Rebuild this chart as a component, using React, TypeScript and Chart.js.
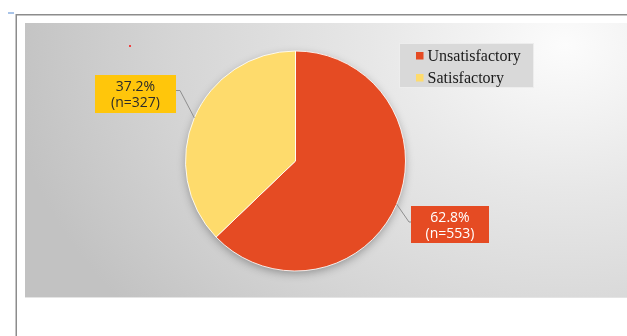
import React, { useEffect, useRef } from "react";
import { Chart, registerables } from "chart.js";

Chart.register(...registerables);

const categories = ["Unsatisfactory", "Satisfactory"];
const counts = [553, 327];
const sliceColors = ["#E54B23", "#FEDB6C"];
const labelBoxColors = ["#E54B23", "#FFC60B"];
const labelTextColors = ["#FFFFFF", "#2B2B2B"];

const W = 627;
const H = 336;

const decorPlugin = {
  id: "decor",
  beforeDraw(chart: any) {
    const ctx = chart.ctx;
    ctx.save();
    ctx.fillStyle = "#FFFFFF";
    ctx.fillRect(0, 0, W, H);
    // gray plot area with elliptical gradient
    ctx.save();
    ctx.beginPath();
    ctx.rect(25, 23, W - 25, 275);
    ctx.clip();
    const cx = 565, cy = 45, rx = 560, ry = 420;
    ctx.translate(cx, cy);
    ctx.scale(1, ry / rx);
    const g = ctx.createRadialGradient(0, 0, 0, 0, 0, rx);
    g.addColorStop(0, "#FCFCFC");
    g.addColorStop(0.35, "#E7E7E7");
    g.addColorStop(0.7, "#D5D5D5");
    g.addColorStop(1, "#C2C2C2");
    ctx.fillStyle = g;
    ctx.fillRect(-2000, -2000, 4000, 4000);
    ctx.restore();
    ctx.fillStyle = "#E4E4E4";
    ctx.fillRect(25, 297, W - 25, 1);
    // frame lines
    ctx.strokeStyle = "#8C8C8C";
    ctx.lineWidth = 1.5;
    ctx.beginPath();
    ctx.moveTo(16, 14.75);
    ctx.lineTo(W, 14.75);
    ctx.moveTo(16.25, 14);
    ctx.lineTo(16.25, H);
    ctx.stroke();
    ctx.fillStyle = "#A9C4E8";
    ctx.fillRect(8, 12, 6, 2);
    ctx.fillStyle = "#F04040";
    ctx.fillRect(129, 45, 2, 2);
    // pie shadow
    const meta = chart.getDatasetMeta(0);
    const arc = meta.data[0];
    if (arc) {
      const { x, y, outerRadius } = arc.getProps(["x", "y", "outerRadius"], true);
      ctx.shadowColor = "rgba(0,0,0,0.35)";
      ctx.shadowBlur = 10;
      ctx.shadowOffsetY = 3;
      ctx.fillStyle = "#DDDDDD";
      ctx.beginPath();
      ctx.arc(x, y, outerRadius - 1, 0, Math.PI * 2);
      ctx.fill();
    }
    ctx.restore();
  },
  afterDraw(chart: any) {
    const ctx = chart.ctx;
    const meta = chart.getDatasetMeta(0);
    const total = counts.reduce((a, b) => a + b, 0);
    const boxes = [
      { x: 411, y: 206, w: 78, h: 37, elbowX: 409, ey: 222, side: 1 },
      { x: 95, y: 75, w: 81, h: 38, elbowX: 180, ey: 90.5, side: -1 },
    ];
    ctx.save();
    meta.data.forEach((el: any, i: number) => {
      const p = el.getProps(["x", "y", "startAngle", "endAngle", "outerRadius"], true);
      const mid = (p.startAngle + p.endAngle) / 2;
      const sx = p.x + Math.cos(mid) * p.outerRadius;
      const sy = p.y + Math.sin(mid) * p.outerRadius;
      const b = boxes[i];
      // leader line
      ctx.strokeStyle = "#8E8E8E";
      ctx.lineWidth = 1;
      ctx.beginPath();
      ctx.moveTo(sx, sy);
      ctx.lineTo(b.elbowX, b.ey);
      ctx.lineTo(b.side > 0 ? b.x : b.x + b.w, b.ey);
      ctx.stroke();
      // box
      ctx.fillStyle = labelBoxColors[i];
      ctx.fillRect(b.x, b.y, b.w, b.h);
      ctx.fillStyle = labelTextColors[i];
      ctx.font = "14px 'Open Sans', 'Noto Sans', sans-serif";
      ctx.textAlign = "center";
      ctx.textBaseline = "middle";
      const pct = ((counts[i] / total) * 100).toFixed(1) + "%";
      ctx.fillText(pct, b.x + b.w / 2, b.y + 12);
      ctx.fillText("(n=" + counts[i] + ")", b.x + b.w / 2, b.y + 28.5);
    });
    // legend
    ctx.fillStyle = "#D9D9D9";
    ctx.fillRect(399, 43, 135, 45);
    ctx.strokeStyle = "#EDEDED";
    ctx.lineWidth = 1;
    ctx.strokeRect(399.5, 43.5, 134, 44);
    ctx.font = "16px 'Liberation Serif', 'Times New Roman', serif";
    ctx.textAlign = "left";
    ctx.textBaseline = "alphabetic";
    categories.forEach((c, i) => {
      const yy = 52 + i * 22;
      ctx.fillStyle = sliceColors[i];
      ctx.fillRect(416, yy, 7.5, 7.5);
      ctx.fillStyle = "#1A1A1A";
      ctx.fillText(c, 427.5, yy + 8.5);
    });
    ctx.restore();
  },
};

export default function App() {
  const ref = useRef<HTMLCanvasElement>(null);
  useEffect(() => {
    if (!ref.current) return;
    const chart = new Chart(ref.current, {
      type: "pie",
      data: {
        labels: categories,
        datasets: [
          {
            data: counts,
            backgroundColor: sliceColors,
            borderColor: "rgba(255,255,255,0.85)",
            borderWidth: 1,
          },
        ],
      },
      options: {
        responsive: false,
        animation: false,
        layout: { padding: { left: 185, right: 221, top: 50, bottom: 64 } },
        plugins: {
          legend: { display: false },
          tooltip: { enabled: false },
        },
      },
      plugins: [decorPlugin],
    });
    return () => chart.destroy();
  }, []);
  return (
    <div style={{ position: "absolute", left: 0, top: 0, width: W, height: H }}>
      <canvas ref={ref} width={W} height={H} style={{ width: W, height: H, display: "block" }} />
    </div>
  );
}
